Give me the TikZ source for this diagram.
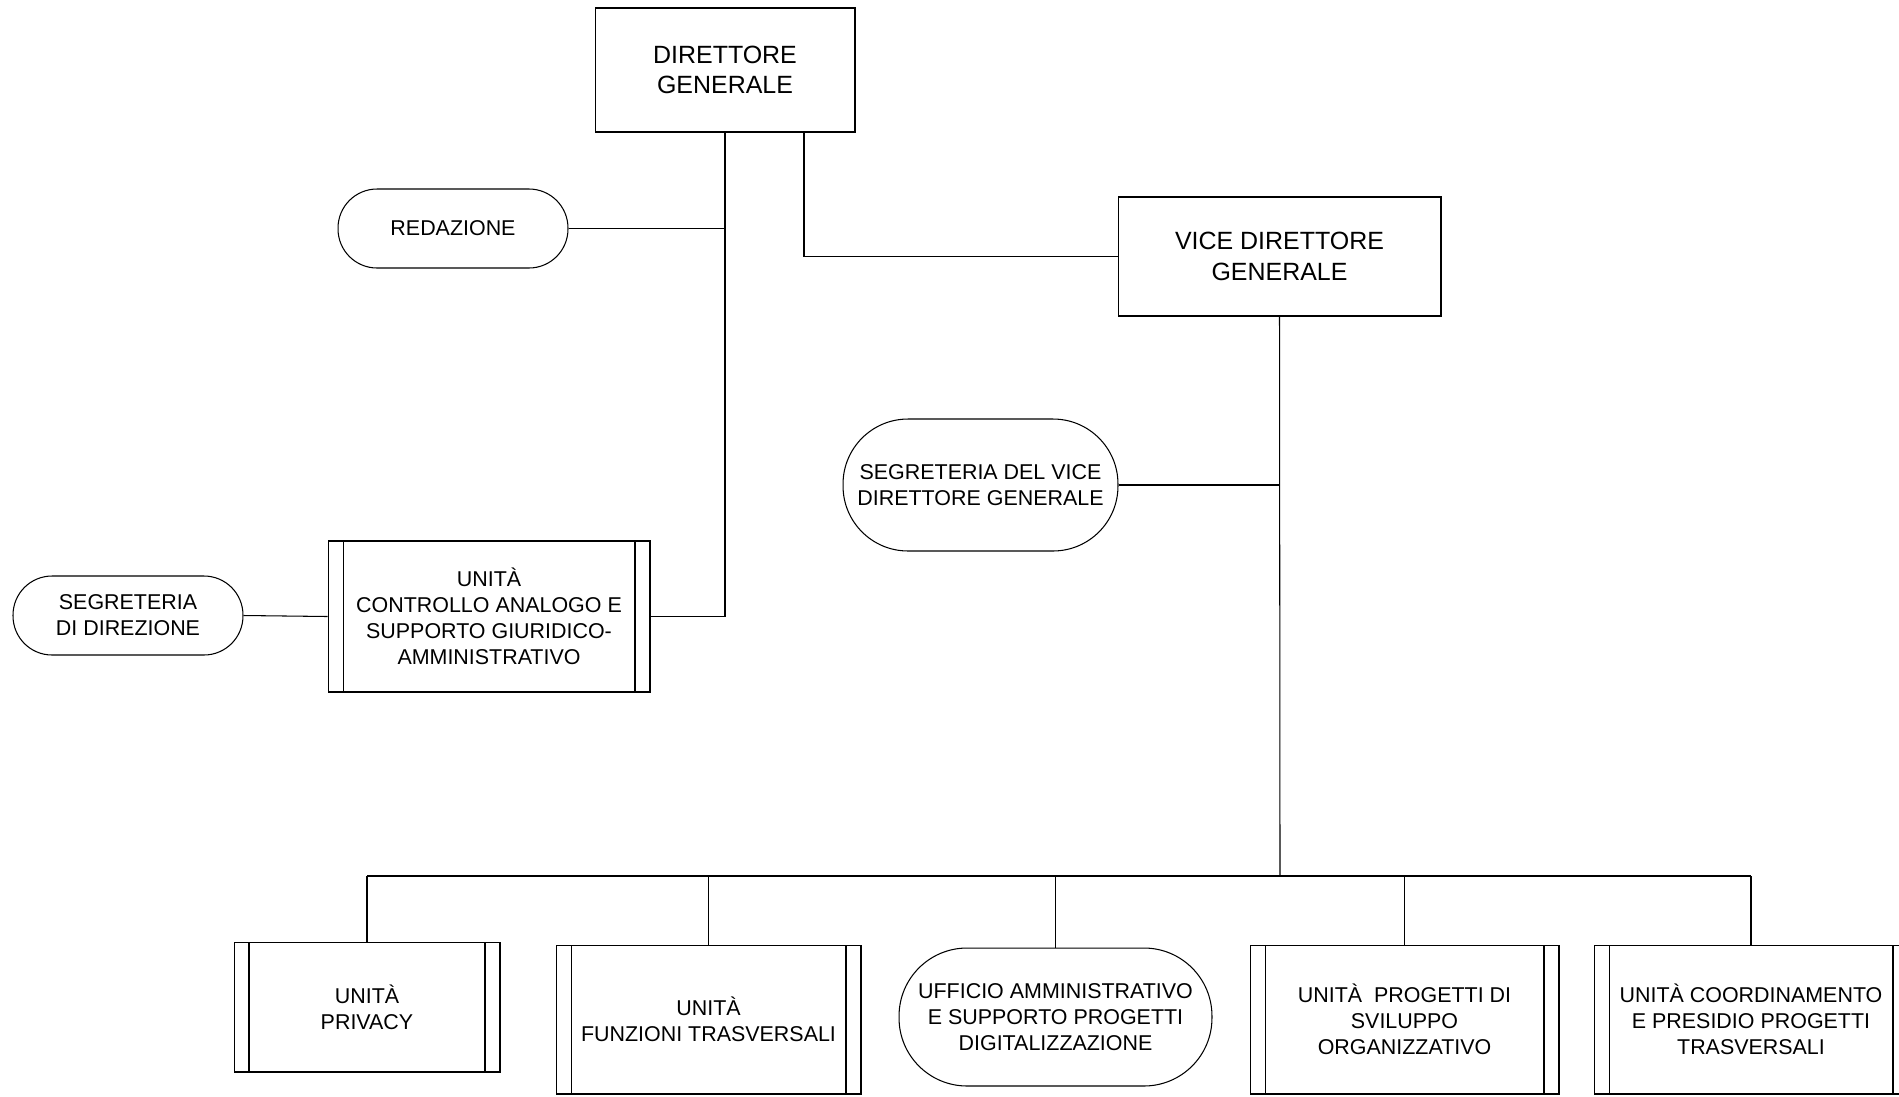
\documentclass[tikz,border=0pt]{standalone}
\usepackage{fontspec}
\setmainfont{Liberation Sans}
\begin{document}
\begin{tikzpicture}[x=0.02cm, y=-0.02cm, line width=0.6pt,
    title/.style={draw, rectangle, align=center, inner sep=0pt, font=\fontsize{14.2}{17.2}\selectfont},
    ovalbox/.style={draw, rectangle, align=center, inner sep=0pt, font=\fontsize{12.2}{14.8}\selectfont},
    unitbox/.style={draw, rectangle, align=center, inner sep=0pt, font=\fontsize{12.2}{14.8}\selectfont,
        path picture={
            \draw ([xshift=0.3cm]path picture bounding box.north west) -- ([xshift=0.3cm]path picture bounding box.south west);
            \draw ([xshift=-0.3cm]path picture bounding box.north east) -- ([xshift=-0.3cm]path picture bounding box.south east);
        }}]
    \useasboundingbox (0,0) rectangle (1899,1096);
    \node[title, minimum width=5.2cm, minimum height=2.48cm] (dg) at (725,70) {DIRETTORE\\GENERALE};
    \node[title, minimum width=6.46cm, minimum height=2.38cm] (vdg) at (1279.5,256.5) {VICE DIRETTORE\\GENERALE};
    \node[ovalbox, rounded corners=0.78cm, minimum width=4.6cm, minimum height=1.58cm] (red) at (453,228.5) {REDAZIONE};
    \node[ovalbox, rounded corners=0.78cm, minimum width=4.6cm, minimum height=1.58cm] (sdir) at (128,615.5) {SEGRETERIA\\DI DIREZIONE};
    \node[ovalbox, rounded corners=1.3cm, minimum width=5.5cm, minimum height=2.64cm] (svdg) at (980.5,485) {SEGRETERIA DEL VICE\\DIRETTORE GENERALE};
    \node[unitbox, minimum width=6.44cm, minimum height=3.02cm] (uca) at (489,616.5) {UNITÀ\\CONTROLLO ANALOGO E\\SUPPORTO GIURIDICO-\\AMMINISTRATIVO};
    \node[unitbox, minimum width=5.32cm, minimum height=2.6cm] (priv) at (367,1007) {UNITÀ\\PRIVACY};
    \node[unitbox, minimum width=6.1cm, minimum height=2.98cm] (funz) at (708.5,1019.5) {UNITÀ\\FUNZIONI TRASVERSALI};
    \node[ovalbox, rounded corners=1.36cm, minimum width=6.26cm, minimum height=2.76cm] (uff) at (1055.5,1017) {UFFICIO AMMINISTRATIVO\\E SUPPORTO PROGETTI\\DIGITALIZZAZIONE};
    \node[unitbox, minimum width=6.18cm, minimum height=2.98cm] (prog) at (1404.5,1019.5) {UNITÀ\ \ PROGETTI DI\\SVILUPPO\\ORGANIZZATIVO};
    \node[unitbox, minimum width=6.28cm, minimum height=2.98cm] (coord) at (1751,1019.5) {UNITÀ COORDINAMENTO\\E PRESIDIO PROGETTI\\TRASVERSALI};
    \coordinate (bus) at (1280,876);
    \draw (dg.south) -- (dg.south |- uca.east) -- (uca.east);
    \draw (red.east) -- (red.east -| dg.south);
    \draw ([xshift=1.58cm]dg.south) |- (vdg.west);
    \draw (sdir.east) -- (uca.west);
    \draw (vdg.south) -- (bus);
    \draw (svdg.east) -- (svdg.east -| vdg.south);
    \draw (priv.north |- bus) -- (coord.north |- bus);
    \draw (priv.north) -- (priv.north |- bus);
    \draw (funz.north) -- (funz.north |- bus);
    \draw (uff.north) -- (uff.north |- bus);
    \draw (prog.north) -- (prog.north |- bus);
    \draw (coord.north) -- (coord.north |- bus);
\end{tikzpicture}
\end{document}
